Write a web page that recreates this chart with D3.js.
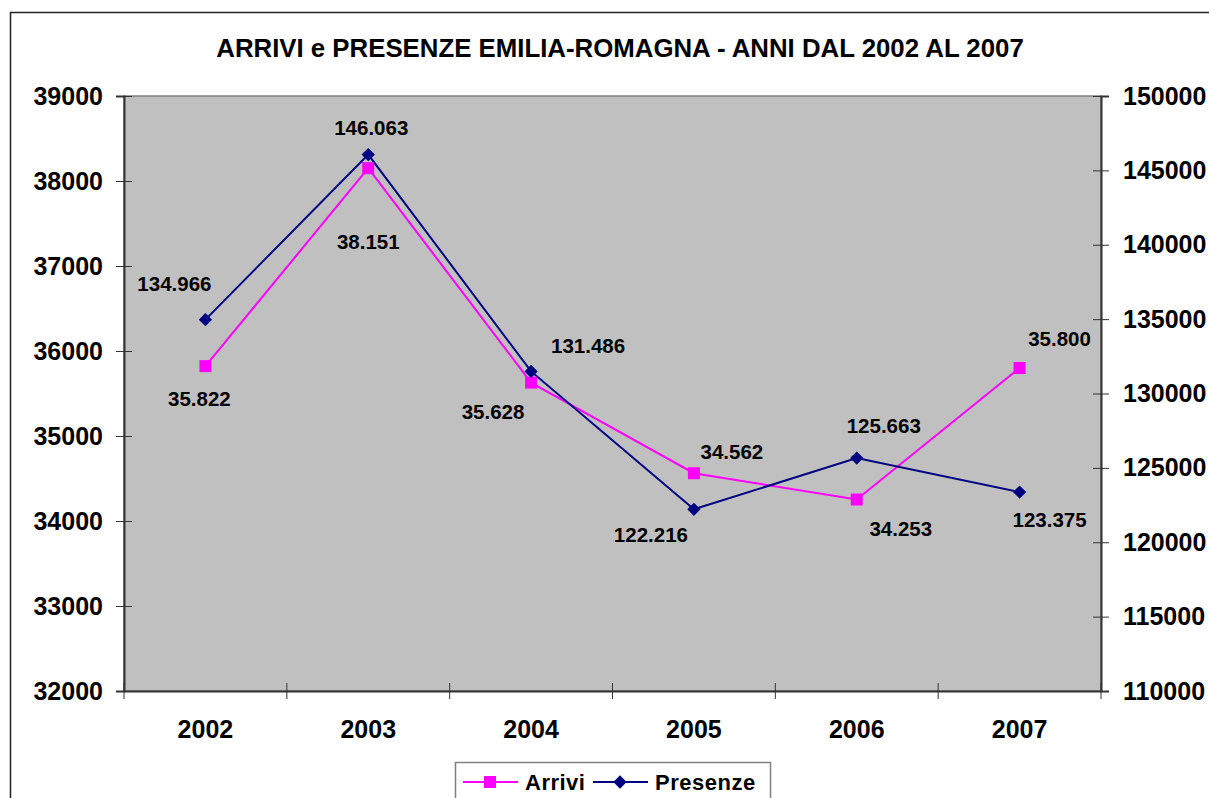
<!DOCTYPE html>
<html>
<head>
<meta charset="utf-8">
<script src="https://cdn.jsdelivr.net/npm/d3@7"></script>
<style>
  body { margin: 0; background: #fff; }
  svg { display: block; font-family: Arial, "Liberation Sans", sans-serif; font-weight: bold; }
</style>
</head>
<body>
<script>
// data
var anni = ["2002", "2003", "2004", "2005", "2006", "2007"];
var arrivi = [35822, 38151, 35628, 34562, 34253, 35800];
var presenze = [134966, 146063, 131486, 122216, 125663, 123375];
var ticksLeft = [32000, 33000, 34000, 35000, 36000, 37000, 38000, 39000];
var ticksRight = [110000, 115000, 120000, 125000, 130000, 135000, 140000, 145000, 150000];

// where each value label sits relative to its marker
var offArrivi = [[-6, 32], [0, 73], [-38, 29], [38, -22], [44, 29], [40, -29]];
var offPresenze = [[-31, -36], [3, -27], [57, -26], [-43, 25], [27, -32], [30, 28]];

var width = 1209, height = 798;
var plot = {left: 124, right: 1101, top: 96, bottom: 691};

var itFmt = d3.formatLocale({decimal: ",", thousands: ".", grouping: [3], currency: ["€", ""]}).format(",d");

var svg = d3.select("body").append("svg")
    .attr("width", width)
    .attr("height", height);

// outer frame (cut off at right/bottom)
svg.append("rect")
    .attr("x", 10.5).attr("y", 12.5)
    .attr("width", 1400).attr("height", 1000)
    .attr("fill", "#fff")
    .attr("stroke", "#222")
    .attr("stroke-width", 1.5);

svg.append("text")
    .attr("x", 620).attr("y", 57)
    .attr("text-anchor", "middle")
    .style("font-size", "25.8px")
    .text("ARRIVI e PRESENZE EMILIA-ROMAGNA - ANNI DAL 2002 AL 2007");

var x = d3.scaleBand().domain(anni).range([plot.left, plot.right]).padding(0);
var yL = d3.scaleLinear().domain([32000, 39000]).range([plot.bottom, plot.top]);
var yR = d3.scaleLinear().domain([110000, 150000]).range([plot.bottom, plot.top]);
function cx(d) { return x(d) + x.bandwidth() / 2; }

// plot area
svg.append("rect")
    .attr("x", plot.left).attr("y", plot.top)
    .attr("width", plot.right - plot.left)
    .attr("height", plot.bottom - plot.top)
    .attr("fill", "#c0c0c0")
    .attr("stroke", "#808080")
    .attr("stroke-width", 1.5);

// left axis
var gL = svg.append("g")
    .attr("transform", "translate(" + plot.left + ",0)")
    .call(d3.axisLeft(yL).tickValues(ticksLeft).tickSize(8).tickPadding(13).tickFormat(d3.format("d")));
gL.selectAll(".tick line").attr("x1", 8);

// right axis
var gR = svg.append("g")
    .attr("transform", "translate(" + plot.right + ",0)")
    .call(d3.axisRight(yR).tickValues(ticksRight).tickSize(8).tickPadding(14).tickFormat(d3.format("d")));
gR.selectAll(".tick line").attr("x1", -8);

// bottom axis: labels centred in bands, ticks on band edges
var gB = svg.append("g")
    .attr("transform", "translate(0," + plot.bottom + ")")
    .call(d3.axisBottom(x).tickSize(0).tickPadding(0));
gB.selectAll(".tick text").attr("y", 47).attr("dy", 0);
var edges = anni.map(function(d) { return x(d); }).concat([plot.right]);
gB.selectAll(".edge").data(edges).enter().append("line")
    .attr("x1", function(d) { return d; }).attr("x2", function(d) { return d; })
    .attr("y1", -8).attr("y2", 8)
    .attr("stroke", "#333");

[gL, gR, gB].forEach(function(g) {
  g.selectAll(".domain").attr("stroke", "#333").attr("stroke-width", 2);
  g.selectAll(".tick line").attr("stroke", "#333");
  g.selectAll(".tick text")
    .attr("fill", "#000")
    .style("font-size", "25px")
    .style("font-family", "Arial, 'Liberation Sans', sans-serif")
    .style("font-weight", "bold");
});

// lines
var lineA = d3.line().x(function(d, i) { return cx(anni[i]); }).y(function(d) { return yL(d); });
var lineP = d3.line().x(function(d, i) { return cx(anni[i]); }).y(function(d) { return yR(d); });

svg.append("path").datum(arrivi)
    .attr("d", lineA).attr("fill", "none")
    .attr("stroke", "#ff00ff").attr("stroke-width", 2);
svg.append("path").datum(presenze)
    .attr("d", lineP).attr("fill", "none")
    .attr("stroke", "#000080").attr("stroke-width", 2);

var sq = d3.symbol().type(d3.symbolSquare).size(144);
// excel diamond = square turned 45 degrees
var dia = d3.symbol().type(d3.symbolSquare).size(88);

svg.selectAll(".mA").data(arrivi).enter().append("path")
    .attr("d", sq)
    .attr("transform", function(d, i) { return "translate(" + cx(anni[i]) + "," + yL(d) + ")"; })
    .attr("fill", "#ff00ff");
svg.selectAll(".mP").data(presenze).enter().append("path")
    .attr("d", dia)
    .attr("transform", function(d, i) { return "translate(" + cx(anni[i]) + "," + yR(d) + ") rotate(45)"; })
    .attr("fill", "#000080");

// value labels
svg.selectAll(".lA").data(arrivi).enter().append("text")
    .attr("x", function(d, i) { return cx(anni[i]) + offArrivi[i][0]; })
    .attr("y", function(d, i) { return yL(d) + offArrivi[i][1]; })
    .attr("dy", "0.36em")
    .attr("text-anchor", "middle")
    .style("font-size", "20.5px")
    .text(function(d) { return itFmt(d); });
svg.selectAll(".lP").data(presenze).enter().append("text")
    .attr("x", function(d, i) { return cx(anni[i]) + offPresenze[i][0]; })
    .attr("y", function(d, i) { return yR(d) + offPresenze[i][1]; })
    .attr("dy", "0.36em")
    .attr("text-anchor", "middle")
    .style("font-size", "20.5px")
    .text(function(d) { return itFmt(d); });

// legend
var leg = svg.append("g");
leg.append("rect")
    .attr("x", 455.5).attr("y", 762.5)
    .attr("width", 315).attr("height", 60)
    .attr("fill", "#fff").attr("stroke", "#808080").attr("stroke-width", 1.5);
var items = [
  {name: "Arrivi", color: "#ff00ff", sym: sq, rot: 0, x: 463},
  {name: "Presenze", color: "#000080", sym: dia, rot: 45, x: 593}
];
items.forEach(function(it) {
  leg.append("line")
      .attr("x1", it.x).attr("x2", it.x + 55)
      .attr("y1", 782).attr("y2", 782)
      .attr("stroke", it.color).attr("stroke-width", 2);
  leg.append("path")
      .attr("d", it.sym)
      .attr("transform", "translate(" + (it.x + 27) + ",782) rotate(" + it.rot + ")")
      .attr("fill", it.color);
  leg.append("text")
      .attr("x", it.x + 62).attr("y", 782)
      .attr("dy", "0.36em")
      .style("font-size", "22px")
      .style("letter-spacing", "0.5px")
      .text(it.name);
});
</script>
</body>
</html>
